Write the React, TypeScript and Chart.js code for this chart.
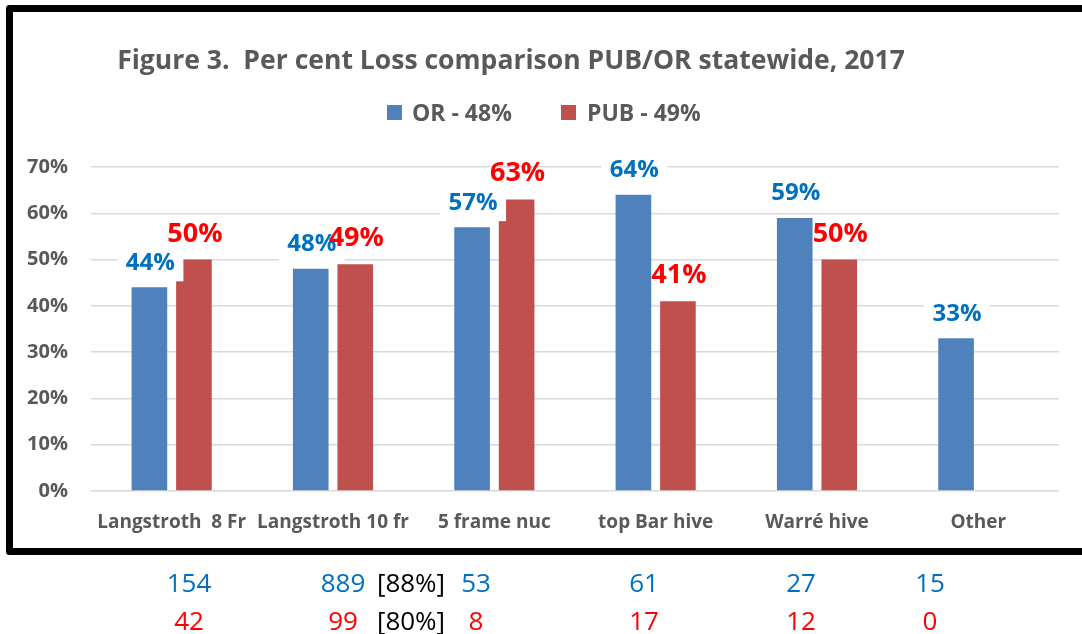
import React, { useEffect, useRef } from "react";
import { Chart, registerables } from "chart.js";

Chart.register(...registerables);

// ---------- data ----------
const title = "Figure 3.  Per cent Loss comparison PUB/OR statewide, 2017";
const categories = ["Langstroth  8 Fr", "Langstroth 10 fr", "5 frame nuc", "top Bar hive", "Warré hive", "Other"];
const seriesNames = ["OR - 48%", "PUB - 49%"];
const orLoss = [44, 48, 57, 64, 59, 33];
const pubLoss: (number | null)[] = [50, 49, 63, 41, 50, null];
const orCounts = ["154", "889", "53", "61", "27", "15"];
const pubCounts = ["42", "99", "8", "17", "12", "0"];
const orShareNote = "[88%]";
const pubShareNote = "[80%]";
const yMax = 70;
const yStep = 10;

// ---------- styles / layout ----------
const FONT = "'Open Sans', 'Noto Sans', sans-serif";
const BLUE_BAR = "#4F81BD";
const RED_BAR = "#C0504D";
const BLUE_TXT = "#0070C0";
const RED_TXT = "#FF0000";
const GRAY = "#595959";
const countX = [189, 343, 476, 644, 801, 930];
const noteX = 411;

const overlay = {
  id: "overlay",
  beforeDraw(chart: any) {
    const ctx = chart.ctx;
    ctx.save();
    ctx.fillStyle = "#ffffff";
    ctx.fillRect(0, 0, chart.width, chart.height);
    ctx.restore();
  },
  afterDraw(chart: any) {
    const ctx: CanvasRenderingContext2D = chart.ctx;
    ctx.save();

    // title (fit to width)
    ctx.font = `bold 100px ${FONT}`;
    const w100 = ctx.measureText(title).width;
    const tSize = Math.min(27, (788 / w100) * 100);
    ctx.font = `bold ${tSize}px ${FONT}`;
    ctx.fillStyle = GRAY;
    ctx.textAlign = "center";
    ctx.textBaseline = "alphabetic";
    ctx.fillText(title, 511, 69);

    // legend
    ctx.textAlign = "left";
    ctx.font = `bold 23px ${FONT}`;
    ctx.fillStyle = BLUE_BAR;
    ctx.fillRect(387, 105, 15, 15);
    ctx.fillStyle = GRAY;
    ctx.fillText(seriesNames[0], 412, 121);
    ctx.fillStyle = RED_BAR;
    ctx.fillRect(561, 105, 15, 15);
    ctx.fillStyle = GRAY;
    ctx.fillText(seriesNames[1], 587, 121);

    // data labels
    ctx.textAlign = "center";
    const m0 = chart.getDatasetMeta(0);
    m0.data.forEach((bar: any, i: number) => {
      const v = orLoss[i];
      if (v == null) return;
      const cx = bar.x + 1;
      const cy = bar.y - 26;
      ctx.fillStyle = "#ffffff";
      ctx.fillRect(cx - 33, cy - 20, 66, 40);
      ctx.font = `bold 24px ${FONT}`;
      ctx.fillStyle = BLUE_TXT;
      ctx.fillText(`${v}%`, cx, bar.y - 17.5);
    });
    const m1 = chart.getDatasetMeta(1);
    m1.data.forEach((bar: any, i: number) => {
      const v = pubLoss[i];
      if (v == null) return;
      ctx.font = `bold 27px ${FONT}`;
      ctx.fillStyle = RED_TXT;
      ctx.fillText(`${v}%`, bar.x + 1, bar.y - 18);
    });

    // frame
    ctx.strokeStyle = "#000000";
    ctx.lineWidth = 7;
    ctx.lineJoin = "round";
    ctx.strokeRect(9.5, 8.5, 1100, 543);

    // counts below
    ctx.font = `26px ${FONT}`;
    ctx.textAlign = "center";
    orCounts.forEach((c, i) => {
      ctx.fillStyle = BLUE_TXT;
      ctx.fillText(c, countX[i], 592);
    });
    pubCounts.forEach((c, i) => {
      ctx.fillStyle = RED_TXT;
      ctx.fillText(c, countX[i], 630);
    });
    ctx.fillStyle = "#000000";
    ctx.fillText(orShareNote, noteX, 592);
    ctx.fillText(pubShareNote, noteX, 630);

    ctx.restore();
  },
};

export default function App() {
  const ref = useRef<HTMLCanvasElement>(null);
  useEffect(() => {
    if (!ref.current) return;
    const chart = new Chart(ref.current, {
      type: "bar",
      data: {
        labels: categories,
        datasets: [
          { label: seriesNames[0], data: orLoss, backgroundColor: BLUE_BAR, barPercentage: 0.8, categoryPercentage: 0.552 },
          { label: seriesNames[1], data: pubLoss as any, backgroundColor: RED_BAR, barPercentage: 0.8, categoryPercentage: 0.552 },
        ],
      },
      options: {
        animation: false,
        responsive: false,
        devicePixelRatio: 1,
        layout: { padding: { top: 167, right: 23, left: 0, bottom: 0 } },
        plugins: { legend: { display: false }, title: { display: false }, tooltip: { enabled: false } },
        scales: {
          x: {
            grid: { display: false, drawTicks: false },
            border: { display: false },
            ticks: {
              color: GRAY,
              font: { family: FONT, size: 19, weight: "bold" },
              padding: 20,
              autoSkip: false,
              maxRotation: 0,
              minRotation: 0,
            },
            afterFit: (s: any) => {
              s.height = 143;
            },
          },
          y: {
            min: 0,
            max: yMax,
            grid: { color: "#D9D9D9", lineWidth: 1.5, drawTicks: false },
            border: { display: false },
            ticks: {
              stepSize: yStep,
              color: GRAY,
              font: { family: FONT, size: 20, weight: "bold" },
              padding: 23,
              callback: (v: any) => `${v}%`,
            },
            afterFit: (s: any) => {
              s.width = 91;
            },
          },
        },
      },
      plugins: [overlay],
    });
    return () => chart.destroy();
  }, []);
  return (
    <div style={{ position: "fixed", left: 0, top: 0, width: 1082, height: 634 }}>
      <canvas ref={ref} width={1082} height={634} style={{ display: "block" }} />
    </div>
  );
}
